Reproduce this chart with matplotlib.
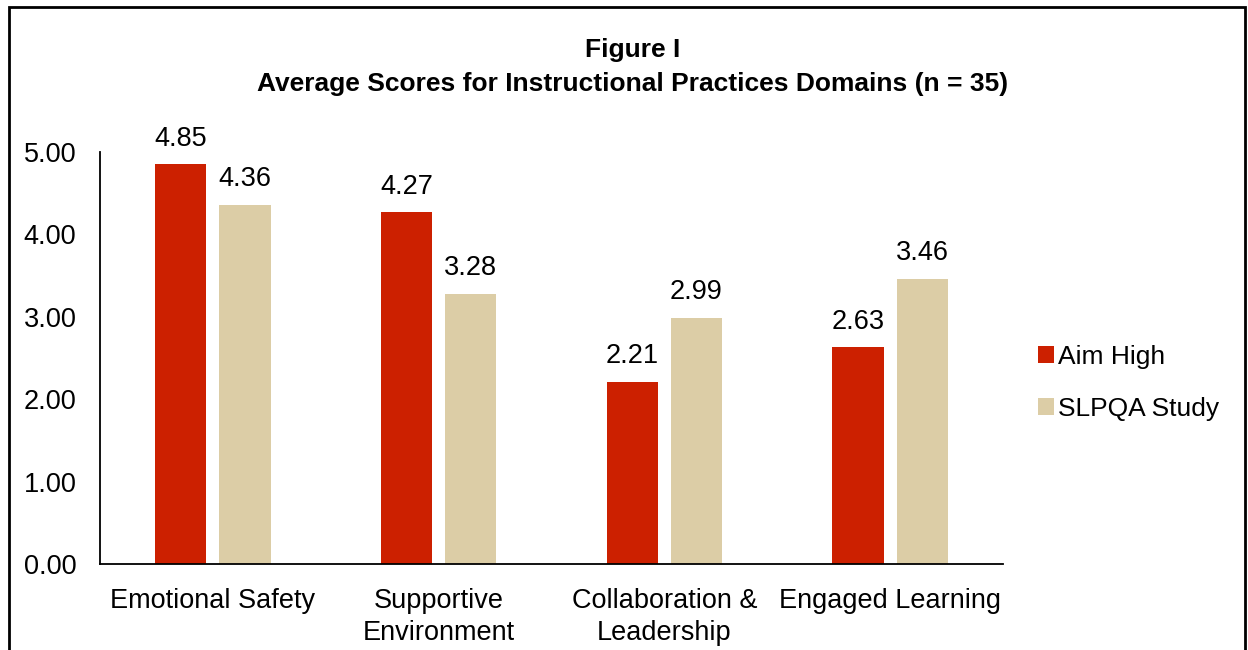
import matplotlib
matplotlib.use("Agg")
import matplotlib.pyplot as plt
import numpy as np
from matplotlib.patches import Rectangle

categories = ["Emotional Safety", "Supportive\nEnvironment", "Collaboration &\nLeadership", "Engaged Learning"]
series_names = ["Aim High", "SLPQA Study"]
aim_high = [4.85, 4.27, 2.21, 2.63]
slpqa = [4.36, 3.28, 2.99, 3.46]
colors = ["#CC2000", "#DCCDA6"]
title_lines = ["Figure I", "Average Scores for Instructional Practices Domains (n = 35)"]

plt.rcParams['font.family'] = ['Liberation Sans', 'DejaVu Sans']

W, H = 1248, 650
fig = plt.figure(figsize=(W/100, H/100), dpi=100)
ax = fig.add_axes([100/W, (H-564)/H, (1003-100)/W, (564-152)/H])

x = np.arange(len(categories))
bw = 0.227
off = 0.142
b1 = ax.bar(x - off, aim_high, bw, color=colors[0], label=series_names[0])
b2 = ax.bar(x + off, slpqa, bw, color=colors[1], label=series_names[1])

for bars, vals in ((b1, aim_high), (b2, slpqa)):
    for r, v in zip(bars, vals):
        ax.annotate(f"{v:.2f}", (r.get_x() + r.get_width()/2, v), xytext=(0, 9),
                    textcoords="offset points", ha="center", va="bottom", fontsize=19.5)

ax.set_xlim(-0.5, len(categories) - 0.5)
ax.set_ylim(0, 5)
ax.set_yticks(np.arange(0, 5.01, 1))
ax.set_yticklabels([f"{v:.2f}" for v in np.arange(0, 5.01, 1)])
ax.set_xticks(x)
ax.set_xticklabels(categories, linespacing=1.3)
ax.tick_params(axis='both', length=0, labelsize=19.5)
ax.tick_params(axis='y', pad=17)
ax.tick_params(axis='x', pad=17)
for s in ("top", "right"):
    ax.spines[s].set_visible(False)
for s in ("left", "bottom"):
    ax.spines[s].set_linewidth(1.3)

leg = fig.legend(handles=[b1, b2], labels=series_names, loc="center left",
                 bbox_to_anchor=(1014/W, 1 - 383/H), frameon=False, fontsize=19,
                 handlelength=0.6, handleheight=0.6, handletextpad=0.15, labelspacing=1.05)

fig.text(633/W, 1 - 50/H, title_lines[0], ha="center", va="center", fontsize=19, fontweight="bold")
fig.text(633/W, 1 - 84/H, title_lines[1], ha="center", va="center", fontsize=19, fontweight="bold")

fig.patches.append(Rectangle((8.5/W, -0.1), (1245 - 8.5)/W, 1 - 7.5/H + 0.1,
                             transform=fig.transFigure, fill=False, edgecolor="black", linewidth=2))

fig.savefig("out.png", dpi=100)
